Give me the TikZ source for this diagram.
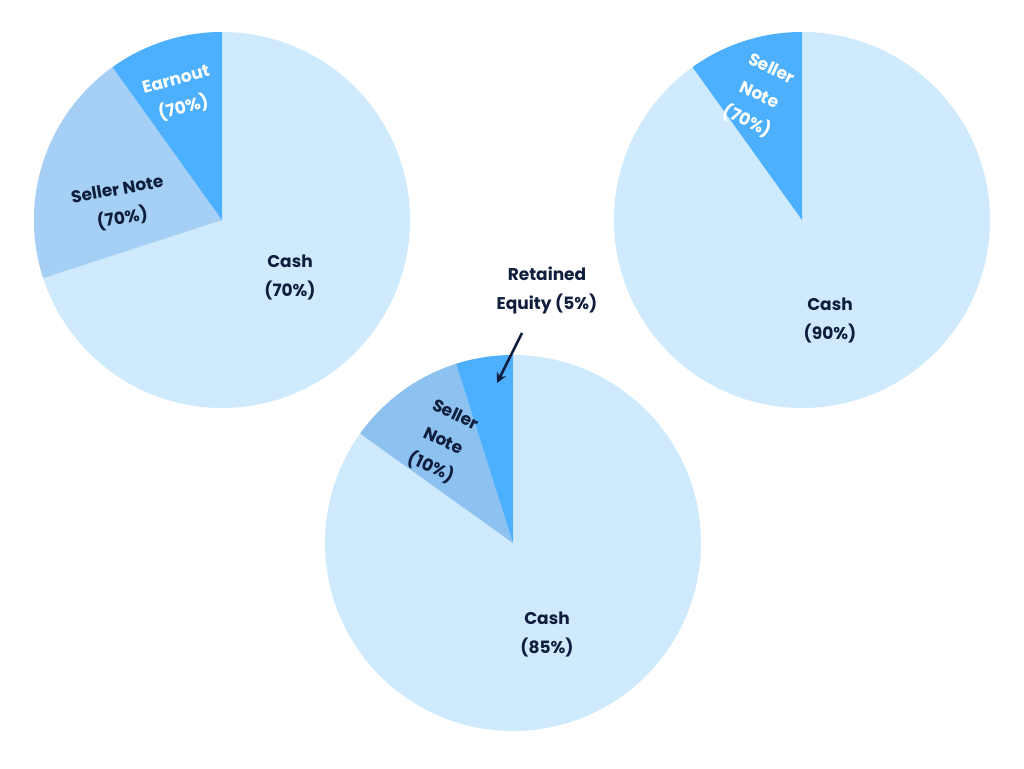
\documentclass[tikz,border=0pt]{standalone}
\usetikzlibrary{arrows.meta}
\usepackage{fontspec}
\setmainfont{Poppins}
\definecolor{cashc}{HTML}{D0EAFD}
\definecolor{notec}{HTML}{A5CFF4}
\definecolor{note3}{HTML}{8DC1F0}
\definecolor{darkc}{HTML}{4DB0FF}
\definecolor{txt}{HTML}{0F1E3C}
\begin{document}
\begin{tikzpicture}[x=1pt,y=1pt,
 lab/.style={font=\fontsize{17}{29}\selectfont\bfseries,text=txt,align=center},
 wlab/.style={lab,text=white}]
\useasboundingbox (0,0) rectangle (1024,768);
% pie 1
\coordinate (c1) at (222,548);
\fill[cashc] (c1) circle (188);
\fill[notec] (c1) -- ++(125.6:188) arc (125.6:198:188) -- cycle;
\fill[darkc] (c1) -- ++(90:188) arc (90:125.6:188) -- cycle;
\node[wlab,rotate=15] (e1) at (180,673) {Earnout\\(70\%)};
\node[lab,rotate=10] (s1) at (120,563) {Seller Note\\(70\%)};
\node[lab] (k1) at (290,491) {Cash\\(70\%)};
% pie 2
\coordinate (c2) at (802,548);
\fill[cashc] (c2) circle (188);
\fill[darkc] (c2) -- ++(90:188) arc (90:125.6:188) -- cycle;
\node[wlab,rotate=-25] (s2) at (759,672) {Seller\\Note\\(70\%)};
\node[lab] (k2) at (830,448) {Cash\\(90\%)};
% pie 3
\coordinate (c3) at (513,225);
\fill[cashc] (c3) circle (188);
\fill[note3] (c3) -- ++(107.6:188) arc (107.6:144.4:188) -- cycle;
\fill[darkc] (c3) -- ++(90:188) arc (90:107.6:188) -- cycle;
\node[lab,rotate=-25] (s3) at (443,326) {Seller\\Note\\(10\%)};
\node[lab] (k3) at (547,134) {Cash\\(85\%)};
\node[lab] (r3) at (547,478) {Retained\\Equity (5\%)};
\coordinate (a0) at (522,435);
\coordinate (a3) at (497,385);
\draw[txt,line width=2.5pt,-{Stealth[length=10pt,width=10pt]}] (a0) -- (a3);
\end{tikzpicture}
\end{document}
